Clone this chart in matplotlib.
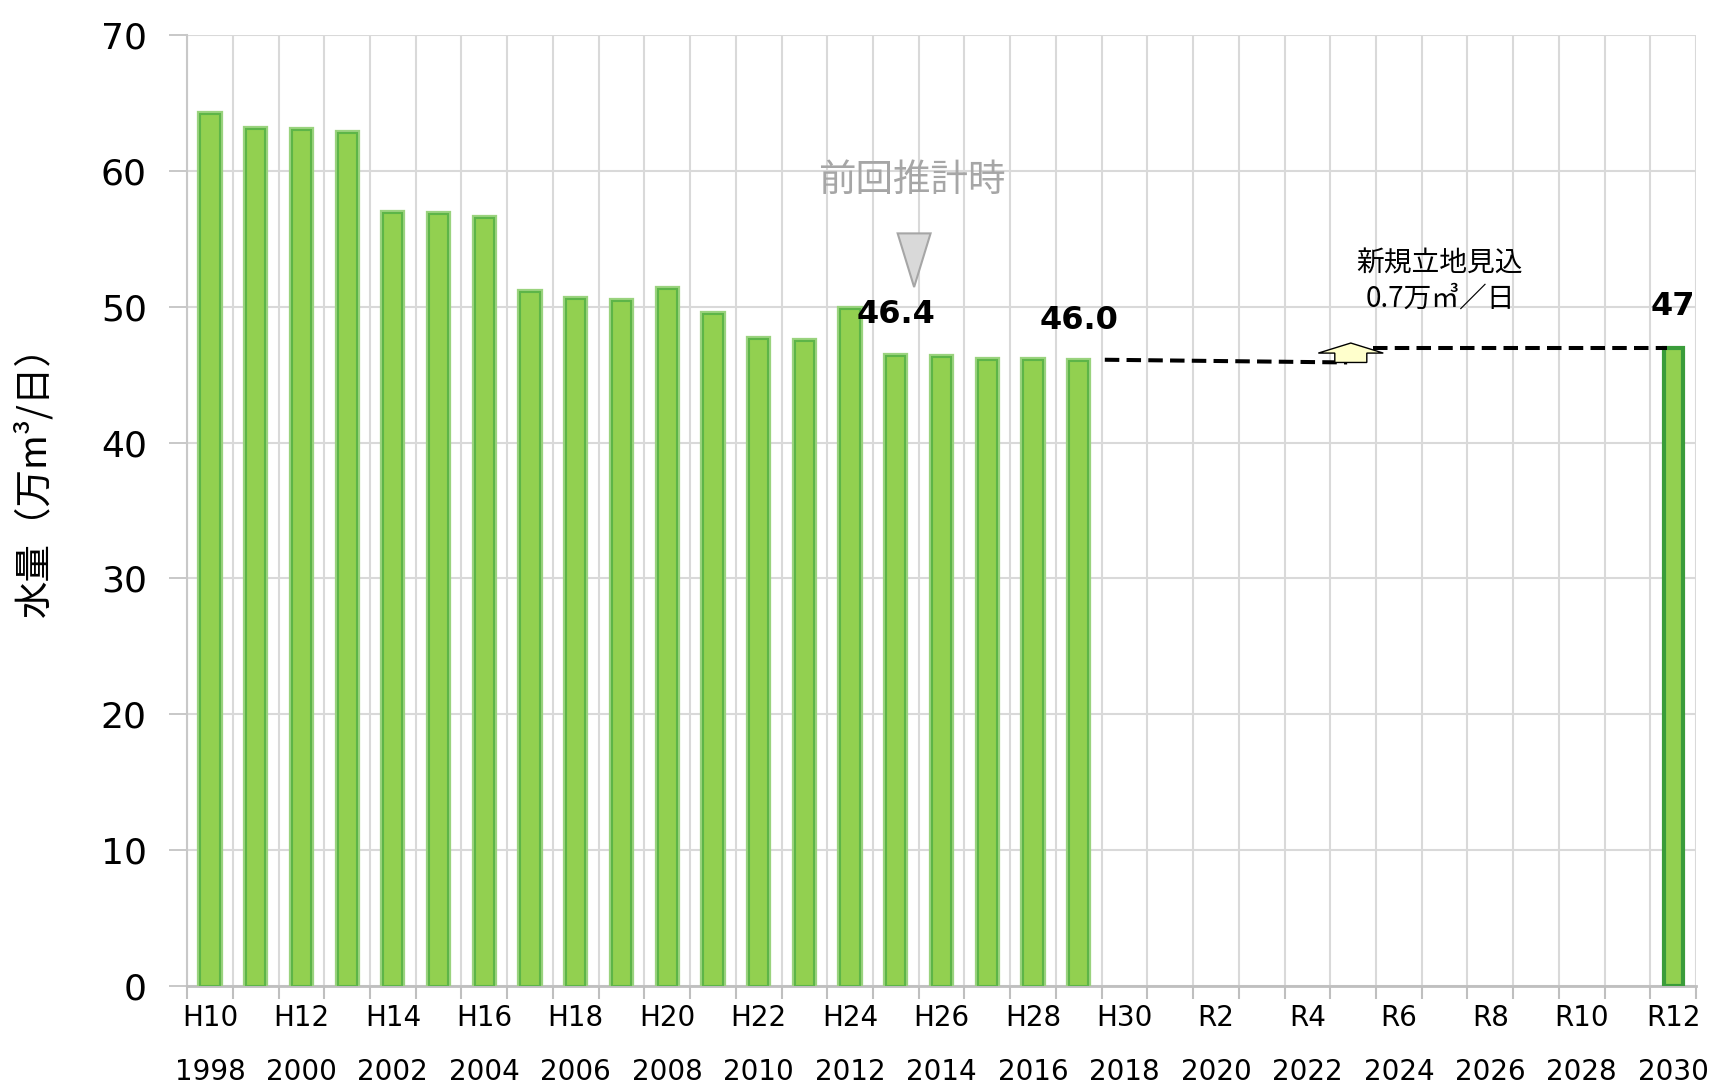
import numpy as np
import matplotlib.pyplot as plt
from matplotlib.patches import FancyArrow, Polygon
from matplotlib.transforms import blended_transform_factory

plt.rcParams['font.family'] = ['DejaVu Sans', 'Noto Sans CJK JP']

# 1998-2030, one category per year
years = list(range(1998, 2031))
era_labels = ["H10", "H12", "H14", "H16", "H18", "H20", "H22", "H24", "H26",
              "H28", "H30", "R2", "R4", "R6", "R8", "R10", "R12"]
year_labels = ["1998", "2000", "2002", "2004", "2006", "2008", "2010", "2012",
               "2014", "2016", "2018", "2020", "2022", "2024", "2026", "2028",
               "2030"]

# actual daily water volume (10,000 m3/day)
actual_years = list(range(1998, 2018))
actual_values = [64.2, 63.1, 63.0, 62.8, 56.9, 56.8, 56.5, 51.1, 50.6, 50.4,
                 51.3, 49.5, 47.6, 47.5, 49.8, 46.4, 46.3, 46.1, 46.1, 46.0]

# planning target
target_year = 2030
target_value = 47.0

# projection lines (year, value)
trend_x = [2017.57, 2022.87]
trend_y = [46.1, 45.9]
newsite_x = [2023.43, 2029.86]
newsite_y = [47.0, 47.0]
newsite_add = 0.7

# labelled values
labels = {2013: "46.4", 2017: "46.0", 2030: "47"}

prev_year = 2013.4
cjk = ["Noto Sans CJK JP", "DejaVu Sans"]


def idx(y):
    return np.asarray(y, dtype=float) - years[0]


fig = plt.figure(figsize=(17.13, 10.85), dpi=100)
ax = fig.add_axes([0.1092, 0.0912, 0.8809, 0.8765])

bar_w = 0.42
ax.bar(idx(actual_years), actual_values, width=bar_w, color="#92D050",
       edgecolor="#9AD37E", linewidth=4.5, zorder=3)
ax.bar(idx(actual_years), actual_values, width=bar_w, color="#92D050",
       edgecolor="#5DB548", linewidth=1.5, zorder=3)
ax.bar(idx([target_year]), [target_value], width=bar_w, color="#92D050",
       edgecolor="#3A9C3A", linewidth=3, zorder=3)

# value labels
for yr, txt in labels.items():
    if yr == target_year:
        v = target_value
    else:
        v = actual_values[actual_years.index(yr)]
    ax.text(idx(yr), v + 3.0, txt, ha="center", va="center", fontsize=23,
            fontweight="bold", color="black", zorder=5)

# projection dashes
dash = (0, (3.6, 1.8))
ax.plot(idx(trend_x), trend_y, color="black", lw=2.9, linestyle=dash,
        zorder=4)
ax.plot(idx(newsite_x), newsite_y, color="black", lw=2.9, linestyle=dash,
        zorder=4)

# step-up arrow for new sites
ax.add_patch(FancyArrow(idx(2022.95), trend_y[1], 0, 1.43, width=0.7,
                        head_width=1.42, head_length=0.74,
                        length_includes_head=True, facecolor="#FFFFCC",
                        edgecolor="black", linewidth=1, zorder=5))
ax.text(idx(2024.9), 53.2, "新規立地見込", ha="center", va="center",
        fontsize=20, family=cjk, zorder=5)
ax.text(idx(2024.9), 50.6, f"{newsite_add}万㎥／日", ha="center",
        va="center", fontsize=20, family=cjk, zorder=5)

# previous estimate marker
px = idx(prev_year)
ax.add_patch(Polygon([[px - 0.36, 55.4], [px + 0.36, 55.4], [px, 51.45]],
                     closed=True, facecolor="#D9D9D9", edgecolor="#A6A6A6",
                     linewidth=1.5, zorder=5))
ax.text(px - 0.05, 59.3, "前回推計時", ha="center", va="center", fontsize=27,
        color="#A6A6A6", family=cjk, zorder=5)

# axes
ax.set_xlim(-0.5, len(years) - 0.5)
ax.set_ylim(0, 70)
ax.set_yticks(np.arange(0, 71, 10))
ax.tick_params(axis="y", labelsize=26, length=13, width=1.2,
               color="#BFBFBF", pad=16)

ax.set_xticks(np.arange(0, len(years), 2))
ax.set_xticklabels(era_labels)
ax.set_xticks(np.arange(-0.5, len(years)), minor=True)
ax.tick_params(axis="x", which="major", length=0, labelsize=20, pad=13)
ax.tick_params(axis="x", which="minor", length=9, width=1.5,
               color="#BFBFBF")
trans = blended_transform_factory(ax.transData, ax.transAxes)
for x, lab in zip(np.arange(0, len(years), 2), year_labels):
    ax.text(x, -0.09, lab, transform=trans, ha="center", va="center",
            fontsize=20)

ax.grid(axis="y", which="major", color="#D9D9D9", lw=1.5, zorder=0)
ax.grid(axis="x", which="minor", color="#D9D9D9", lw=1.5, zorder=0)
ax.set_axisbelow(True)
for s in ["top", "right"]:
    ax.spines[s].set_visible(False)
ax.spines["left"].set_color("#C8C8C8")
ax.spines["left"].set_linewidth(1.5)
ax.spines["bottom"].set_color("#BFBFBF")
ax.spines["bottom"].set_linewidth(2)

ax.set_ylabel("水量（万m³/日）", fontsize=27, family=cjk)
ax.yaxis.set_label_coords(-0.088, 0.54)

fig.savefig("out.png", dpi=100)
